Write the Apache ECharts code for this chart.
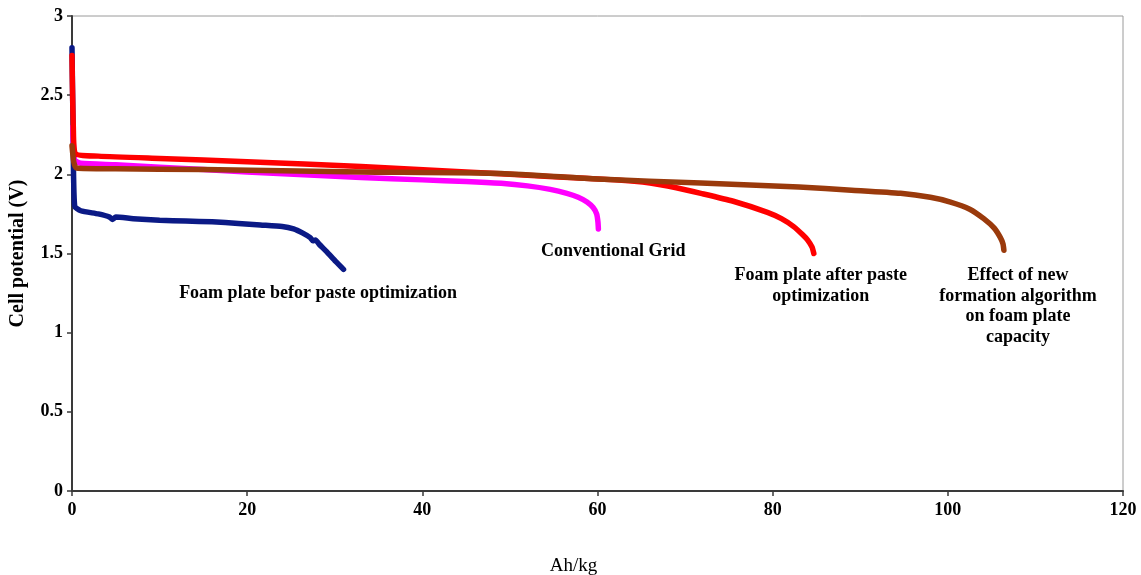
<!DOCTYPE html>
<html>
<head>
<meta charset="utf-8">
<script src="https://cdn.jsdelivr.net/npm/echarts@6/dist/echarts.min.js"></script>
<style>html,body{margin:0;padding:0;background:#fff}#c{width:1141px;height:575px}</style>
</head>
<body>
<div id="c"></div>
<script>
var xTicks = [0, 20, 40, 60, 80, 100, 120];
var yTicks = [0, 0.5, 1, 1.5, 2, 2.5, 3];

var foamBefore = [[0,2.8],[0.12,2.3],[0.3,1.8],[1,1.77],[3,1.75],[4.3,1.73],[4.6,1.715],[5,1.73],[7,1.72],[10,1.71],[13,1.705],[16,1.70],[19,1.69],[21.5,1.68],[24,1.67],[25.3,1.655],[26.3,1.63],[27.2,1.60],[27.5,1.58],[27.8,1.585],[28.2,1.56],[29.1,1.51],[30.1,1.45],[31,1.40]];
var conventional = [[0.1,2.3],[0.3,2.09],[1,2.07],[5,2.06],[10,2.045],[20,2.015],[33,1.98],[40,1.965],[45,1.955],[49,1.943],[52,1.927],[54.6,1.905],[56.5,1.88],[57.8,1.855],[58.8,1.825],[59.5,1.79],[59.9,1.75],[60.05,1.70],[60.1,1.655]];
var foamAfter = [[0,2.75],[0.15,2.3],[0.4,2.13],[3,2.115],[10,2.10],[20,2.08],[33,2.05],[45,2.015],[55,1.985],[62,1.965],[66,1.945],[69,1.915],[71.8,1.88],[75.5,1.83],[79.4,1.76],[81,1.72],[82.4,1.67],[83.4,1.62],[84,1.585],[84.5,1.54],[84.7,1.50]];
var newFormation = [[0,2.18],[0.2,2.08],[0.5,2.04],[5,2.035],[15,2.03],[33,2.015],[49,2.005],[60,1.97],[71.8,1.945],[83,1.92],[89,1.90],[94.6,1.88],[98,1.855],[100.3,1.825],[102.5,1.78],[104.1,1.72],[105.3,1.66],[106,1.60],[106.3,1.56],[106.4,1.52]];

var annotations = [
  {coord:[28.1,1.25], text:'Foam plate befor paste optimization'},
  {coord:[61.8,1.516], text:'Conventional Grid'},
  {coord:[85.5,1.295], text:'Foam plate after paste\noptimization'},
  {coord:[108,1.165], text:'Effect of new\nformation algorithm\non foam plate\ncapacity'}
];

var serif = '"Liberation Serif","Times New Roman",serif';
var chart = echarts.init(document.getElementById('c'), null, {renderer:'canvas'});

function line(name, data, color, width, z) {
  return {
    name:name, type:'line', data:data, showSymbol:false, symbol:'none', smooth:0.2,
    lineStyle:{color:color, width:width, cap:'round', join:'round'},
    z:z, animation:false, silent:true
  };
}

var series = [
  line('Foam plate befor paste optimization', foamBefore, '#0b1a86', 5.5, 2),
  line('Conventional Grid', conventional, '#ff00ff', 5.5, 3),
  line('Foam plate after paste optimization', foamAfter, '#ff0000', 5.5, 4),
  line('Effect of new formation algorithm on foam plate capacity', newFormation, '#9a3a0c', 5.5, 5)
];
series.push({
  type:'scatter', data:annotations.map(function(a){return {value:a.coord, label:{formatter:a.text}};}),
  symbolSize:0, silent:true, animation:false, z:10,
  itemStyle:{opacity:1, color:'transparent'},
  label:{show:true, position:'inside', color:'#000', opacity:1, fontFamily:serif, fontWeight:'bold', fontSize:18, lineHeight:20.5, align:'center'}
});

chart.setOption({
  backgroundColor:'#fff',
  animation:false,
  grid:{left:72, right:18, top:16, bottom:84, containLabel:false, outerBoundsMode:'none', show:true, borderColor:'#9a9a9a', borderWidth:1, backgroundColor:'transparent'},
  xAxis:{
    type:'value', min:xTicks[0], max:xTicks[xTicks.length-1], interval:20,
    name:'Ah/kg', nameLocation:'middle', nameGap:66,
    nameTextStyle:{fontFamily:serif, fontSize:19, color:'#000', padding:[0,48,0,0]},
    axisLine:{show:true, lineStyle:{color:'#3a3a3a', width:2}},
    axisTick:{show:true, inside:false, length:5, lineStyle:{color:'#3a3a3a', width:1.5}},
    axisLabel:{fontFamily:serif, fontWeight:'bold', fontSize:18, color:'#000', margin:10},
    splitLine:{show:false}
  },
  yAxis:{
    type:'value', min:yTicks[0], max:yTicks[yTicks.length-1], interval:0.5,
    name:'Cell potential (V)', nameLocation:'middle', nameGap:44,
    nameTextStyle:{fontFamily:serif, fontSize:20, fontWeight:'bold', color:'#000'},
    axisLine:{show:true, lineStyle:{color:'#3a3a3a', width:2}},
    axisTick:{show:true, inside:false, length:5, lineStyle:{color:'#3a3a3a', width:1.5}},
    axisLabel:{fontFamily:serif, fontWeight:'bold', fontSize:18, color:'#000', margin:9},
    splitLine:{show:false}
  },
  series:series
});
</script>
</body>
</html>
